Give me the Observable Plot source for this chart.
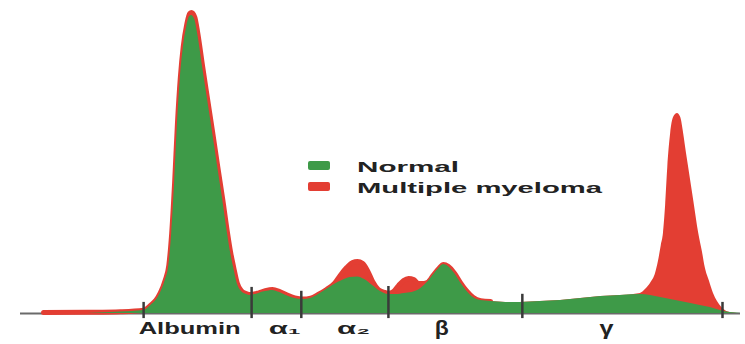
<!DOCTYPE html>
<html>
<head>
<meta charset="utf-8">
<script src="https://cdn.jsdelivr.net/npm/d3@7"></script>
<script src="https://cdn.jsdelivr.net/npm/@observablehq/plot@0.6"></script>
<style>
  html, body { margin: 0; padding: 0; background: #fff; }
  #chart { position: relative; width: 745px; height: 344px; }
</style>
</head>
<body>
<div id="chart"></div>
<script>
// Relative mobility (0 = anode side, 100 = cathode end) and relative density
const normalMobility = [9.3, 13.9, 17.1, 18.1, 18.8, 19.4, 20.1, 20.6, 21.0, 21.4, 21.8, 22.2, 22.6, 23.1, 23.5, 23.75, 24.2, 24.6, 25.3, 26.0, 26.7, 27.4, 28.1, 28.75, 29.2, 29.6, 30.1, 30.7, 31.4, 31.9, 33.1, 34.0, 35.0, 36.0, 36.9, 38.1, 39.2, 40.3, 41.4, 42.5, 43.6, 44.7, 45.8, 46.8, 47.8, 48.9, 50.0, 51.1, 52.2, 53.3, 54.4, 55.6, 56.5, 57.4, 58.1, 58.75, 59.4, 60.3, 61.1, 61.9, 62.9, 63.9, 65.3, 67.4, 69.4, 72.2, 75.0, 77.8, 80.6, 83.3, 86.1, 87.5, 88.9, 90.3, 91.7, 93.1, 94.4, 95.8, 97.2, 98.6, 100];
const normalDensity = [0, 0.5, 1, 2.7, 4.3, 6.7, 11, 16, 26.7, 43.3, 63.3, 78.3, 88.3, 95.7, 99, 99.3, 98, 93.3, 82, 71, 60, 48.7, 37.7, 26.7, 20, 15.3, 10, 7.3, 6.3, 6, 6.7, 7.3, 7.7, 7, 6, 5, 4.7, 5, 6.3, 8, 9.7, 11, 12, 12.2, 11.3, 9.3, 7.3, 6.3, 6.3, 6.7, 7, 8.3, 10.3, 13, 15, 16.3, 15.7, 13.3, 10.3, 7.7, 5.3, 4.3, 4, 3.7, 3.7, 4, 4.3, 5, 5.7, 6, 6.3, 6, 5.3, 4.7, 4, 3.3, 2.7, 2, 1, 0.3, 0];

const myelomaMobility = [3.2, 9.3, 13.9, 17.1, 18.1, 18.8, 19.4, 20.1, 20.6, 21.0, 21.4, 21.8, 22.2, 22.6, 23.1, 23.5, 23.75, 24.2, 24.6, 25.3, 26.0, 26.7, 27.4, 28.1, 28.75, 29.2, 29.6, 30.1, 30.7, 31.4, 31.9, 33.1, 34.0, 35.0, 36.0, 36.9, 38.1, 39.2, 40.3, 41.4, 42.5, 43.6, 44.4, 45.3, 46.1, 46.8, 47.5, 48.2, 48.9, 49.7, 50.6, 51.1, 51.8, 52.5, 53.2, 53.9, 54.6, 55.3, 56.0, 56.5, 57.4, 58.1, 58.75, 59.4, 60.3, 61.1, 61.9, 62.9, 63.9, 65.3, 67.4, 69.4, 72.2, 75.0, 77.8, 80.6, 83.3, 86.1, 86.8, 87.5, 88.2, 88.6, 89.0, 89.3, 89.6, 89.9, 90.3, 90.7, 91.25, 91.7, 92.1, 92.5, 92.8, 93.5, 94.2, 94.7, 95.1, 95.7, 96.25, 96.8, 97.4, 98.1, 99.0, 100];
const myelomaDensity = [0.3, 0.4, 0.6, 1.1, 2.8, 4.4, 6.8, 11.1, 16.1, 26.8, 43.4, 63.5, 78.7, 88.9, 96.5, 100, 100.3, 98.8, 93.8, 82.3, 71.2, 60.2, 48.9, 37.9, 26.9, 20.2, 15.5, 10.2, 7.5, 6.6, 6.3, 6.9, 7.6, 8, 7.3, 6.3, 5.2, 4.8, 5.1, 6.4, 8, 10, 12.7, 15.3, 17, 17.3, 16.7, 14.3, 10.7, 8, 7, 6.7, 7.3, 9.3, 11, 11.7, 11.3, 10, 10, 10.3, 13, 15, 16.3, 15.7, 13.3, 10.3, 7.7, 5.3, 4.3, 4, 3.7, 3.7, 4, 4.3, 5, 5.7, 6, 6.7, 8, 10, 13.3, 17.3, 22.7, 26.7, 36, 48.7, 60, 65.3, 66.7, 65.3, 60, 53.3, 48.7, 37.7, 26.7, 20.7, 15.3, 10.7, 6.7, 4, 2, 0.7, 0.2, 0];

const fractionBoundaries = [17.1, 32.1, 39.0, 51.1, 69.7, 97.5];
const fractionLabels = ["Albumin", "α₁", "α₂", "β", "γ"];
const fractionCenters = [23.5, 36.7, 46.25, 58.5, 81.4];

const seriesNames = ["Normal", "Multiple myeloma"];
const seriesColors = ["#3e9a48", "#e33e33"];

// build tables
const normal = normalMobility.map((x, i) => ({x, y: normalDensity[i]}));
const myeloma = myelomaMobility.map((x, i) => ({x, y: myelomaDensity[i]}));
const labels = fractionLabels.map((t, i) => ({t, x: fractionCenters[i]}));
const nearestNormal = (v) => {
  let best = normal[0];
  for (const d of normal) if (Math.abs(d.x - v) < Math.abs(best.x - v)) best = d;
  return best.y;
};

const FONT = "'Liberation Sans', Arial, 'DejaVu Sans', sans-serif";
const green = seriesColors[0], red = seriesColors[1];
const bigGreek = (t) => t === "β" || t === "γ";

const chart = Plot.plot({
  width: 745,
  height: 344,
  margin: 0,
  style: {fontFamily: FONT, background: "#fff"},
  x: {domain: [0, 100], range: [20, 740], axis: null},
  y: {domain: [0, 101], range: [313, 10], axis: null},
  marks: [
    Plot.ruleY([0], {x1: 0, x2: 100, stroke: "#6a6a6a", strokeWidth: 2}),
    Plot.areaY(myeloma, {x: "x", y: "y", fill: red, curve: "monotone-x"}),
    Plot.lineY(myeloma, {filter: d => d.x < 66, x: "x", y: "y", stroke: red, strokeWidth: 5, curve: "monotone-x"}),
    Plot.areaY(normal, {x: "x", y: "y", fill: green, curve: "monotone-x"}),
    Plot.ruleX(fractionBoundaries, {x: d => d, y1: -1.7, y2: d => nearestNormal(d) + 2.7, stroke: "#3a3a3a", strokeWidth: 2.5}),
    Plot.text(labels, {filter: d => !bigGreek(d.t), x: "x", y: 0, text: "t", dy: 15, fontSize: 16, fontWeight: "bold", fill: "#222", lineAnchor: "middle"}),
    Plot.text(labels, {filter: d => bigGreek(d.t), x: "x", y: 0, text: "t", dy: 15, fontSize: 20, fontWeight: "bold", fill: "#222", lineAnchor: "middle"})
  ]
});

// stretch labels to match the wide lettering
const labelWidths = {"Albumin": 102, "α₁": 32, "α₂": 33, "β": 14, "γ": 14};
d3.select(chart).selectAll("g[aria-label='text'] text").each(function() {
  const t = this.textContent;
  if (labelWidths[t]) {
    this.setAttribute("textLength", labelWidths[t]);
    this.setAttribute("lengthAdjust", "spacingAndGlyphs");
  }
});

// legend
const leg = d3.select(chart).append("g").attr("font-family", FONT).attr("text-anchor", "start");
const legendRows = [{y: 166, w: 102}, {y: 187, w: 245}];
seriesNames.forEach((name, i) => {
  leg.append("rect").attr("x", 308).attr("y", legendRows[i].y - 5).attr("width", 22).attr("height", 9)
    .attr("rx", 2).attr("fill", seriesColors[i]);
  leg.append("text").attr("x", 357).attr("y", legendRows[i].y + 5.5).attr("font-size", 15)
    .attr("font-weight", "bold").attr("text-anchor", "start")
    .attr("fill", "#222").attr("textLength", legendRows[i].w).attr("lengthAdjust", "spacingAndGlyphs")
    .text(name);
});

document.getElementById("chart").appendChild(chart);
</script>
</body>
</html>
